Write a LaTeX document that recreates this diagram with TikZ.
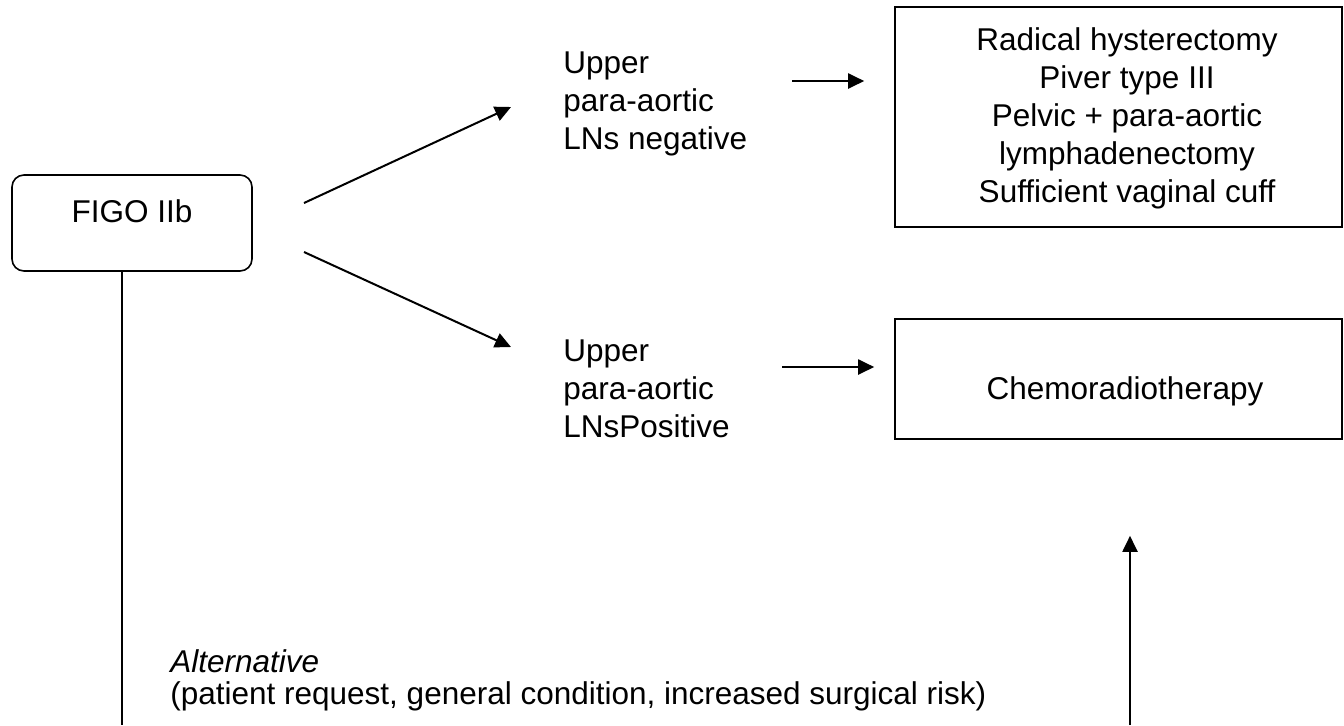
\documentclass[tikz,border=0pt]{standalone}
\usepackage{fontspec}
\setmainfont{Liberation Sans}
\usetikzlibrary{arrows.meta}

\begin{document}
\begin{tikzpicture}[
  x=0.5pt,
  y=-0.5pt,
  every node/.style={
    font=\fontsize{15.75}{19}\selectfont,
    inner sep=0pt
  },
  roundbox/.style={
    draw,
    line width=0.8pt,
    rounded corners=6pt,
    minimum width=120pt,
    minimum height=48pt
  },
  squarebox/.style={
    draw,
    line width=0.8pt,
    minimum width=223.5pt
  },
  plain text/.style={
    align=left,
    anchor=west
  },
  link/.style={
    line width=1pt
  },
  arrow/.style={
    link,
    -{Triangle[length=8pt,width=7.5pt]}
  },
]
\useasboundingbox (0,0) rectangle (1344,725);

\node[roundbox] (figo) at (132,223) {};
\node (figotext) at (132,211) {FIGO IIb};
\node[plain text] (neg) at (563,104) {Upper\\para-aortic\\LNs negative};
\node[plain text] (pos) at (563,389) {Upper\\para-aortic\\LNsPositive};
\node[squarebox, minimum height=110pt] (surgery) at (1118.5,117) {};
\node[align=center] (surgerytext) at (1127,118)
  {Radical hysterectomy\\Piver type III\\Pelvic + para-aortic\\lymphadenectomy\\Sufficient vaginal cuff};
\node[squarebox, minimum height=60pt] (chemo) at (1118.5,379) {};
\node (chemotext) at (1125,391) {Chemoradiotherapy};
\node[plain text, anchor=north west, font=\fontsize{15.75}{16}\selectfont] (alt) at (170,649)
  {\textit{Alternative}\\(patient request, general condition, increased surgical risk)};

\coordinate (upstart) at (304,203);
\coordinate (upend) at (511,107);
\coordinate (downstart) at (304,252);
\coordinate (downend) at (511,347);
\coordinate (negstart) at (792,81);
\coordinate (posstart) at (782,367);
\coordinate (altfoot) at (122,725);
\coordinate (altright) at (1130,725);

\draw[arrow] (upstart) -- (upend);
\draw[arrow] (downstart) -- (downend);
\draw[arrow, shorten >=15pt] (negstart) -- (negstart -| surgery.west);
\draw[arrow, shorten >=10pt] (posstart) -- (posstart -| chemo.west);
\draw[link] ([xshift=-5pt]figo.south) -- (altfoot);
\draw[arrow, shorten >=48pt] (altright) -- (altright |- chemo.south);
\end{tikzpicture}
\end{document}
